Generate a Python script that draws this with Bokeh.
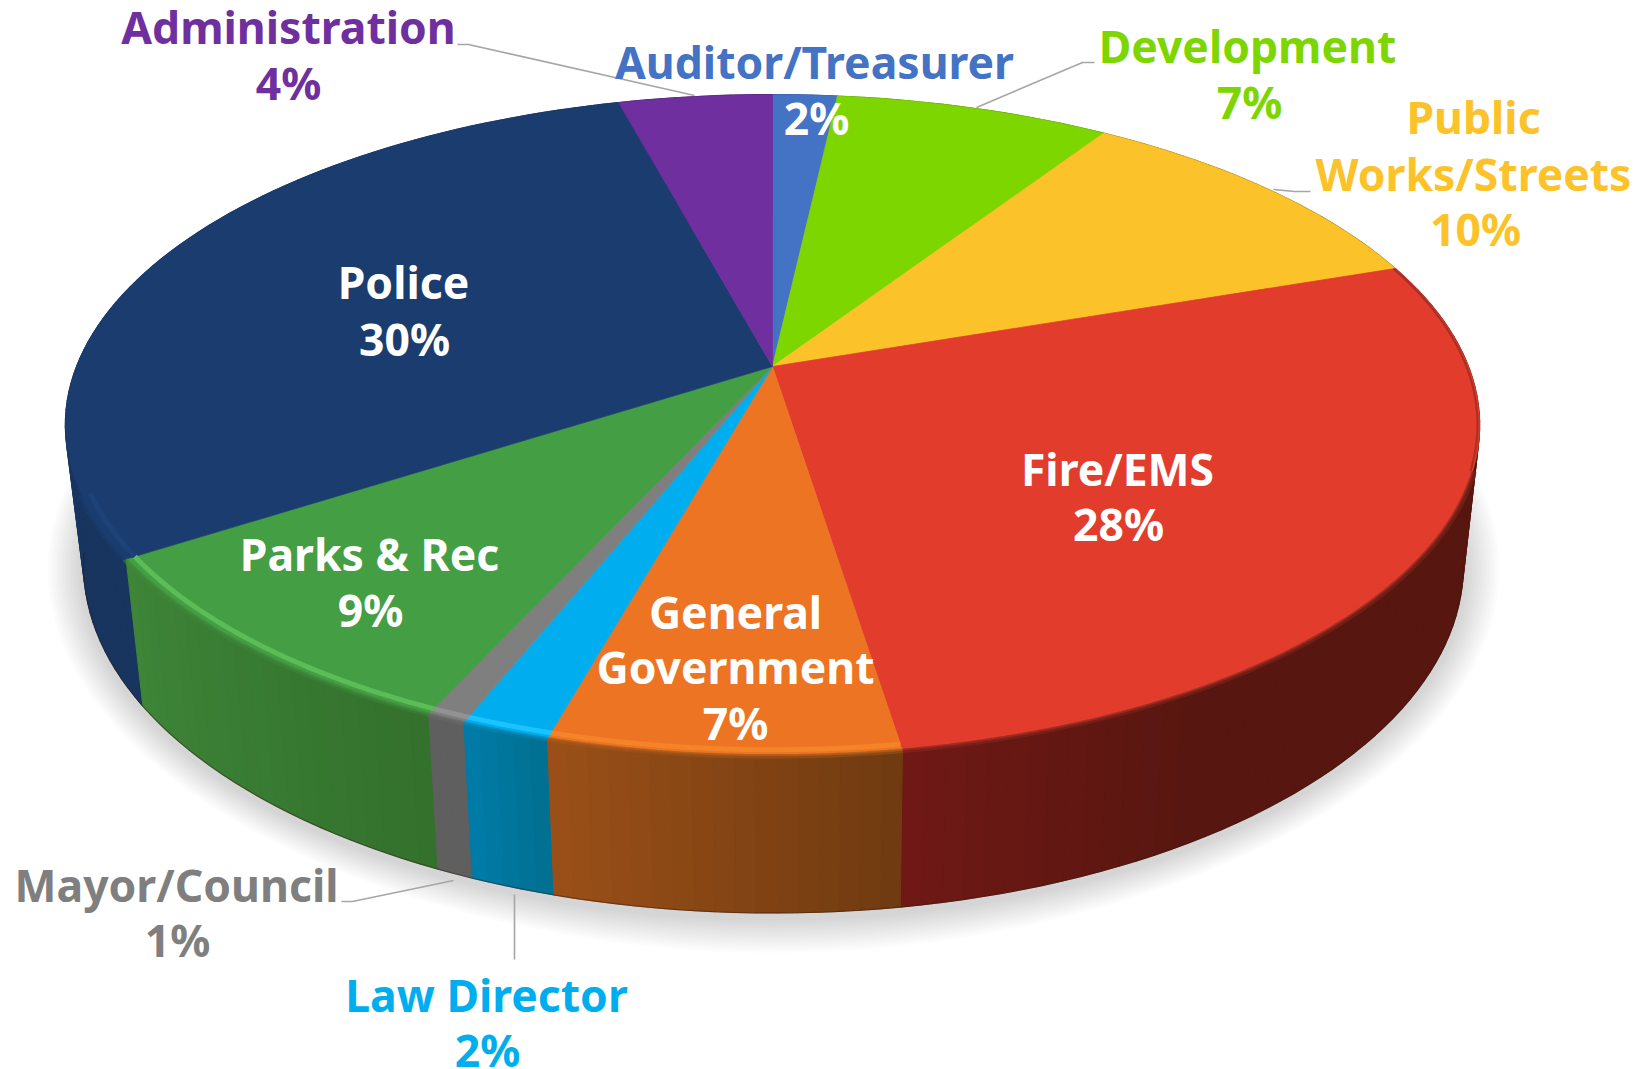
import numpy as np
from bokeh.plotting import figure
from bokeh.models import ColumnDataSource, Range1d
from bokeh.core.properties import value
from bokeh.embed import file_html
from bokeh.resources import INLINE

# ---------- data ----------
CATEGORIES = ["Auditor/Treasurer", "Development", "Public Works/Streets", "Fire/EMS",
              "General Government", "Law Director", "Mayor/Council", "Parks & Rec",
              "Police", "Administration"]
SHARES = [1.75, 7.45, 10.55, 27.79, 6.78, 1.72, 0.76, 9.05, 29.98, 4.17]
PERCENT_LABELS = ["2%", "7%", "10%", "28%", "7%", "2%", "1%", "9%", "30%", "4%"]

# ---------- styles ----------
TOP_COLORS = ["#4472c4", "#7ed600", "#fcc22a", "#e23c2d", "#ec7423",
              "#00aeef", "#7f7f7f", "#449e43", "#1b3c6f", "#6f2f9f"]
RIM_COLORS = [None, None, None, "#e23c2d", "#f58428", "#1cc4ff", "#929292", "#5cbc58", "#1e4379", None]
EDGE_COLORS = [None, None, None, "#8f2a20", "#a85a1c", "#0a88b8", "#6a6a6a", "#3f8a3b", "#1a3f72", None]
SIDE_START = ["#2c4a80", "#527f00", "#8a6a17", "#571710", "#6f3a10",
              "#00708f", "#5f5f5f", "#33712d", "#18355f", "#46205f"]
SIDE_END = ["#2c4a80", "#527f00", "#8a6a17", "#701815", "#9b5018",
              "#007ba9", "#5f5f5f", "#3e8538", "#18355f", "#46205f"]
SIDE_RAMP = [1, 1, 1, 0.22, 1, 1, 1, 1, 1, 1]
TEXT_COLORS = ["#4472c4", "#7ed600", "#fcc22a", None, None, "#00aeef", "#7f7f7f", None, None, "#6f2f9f"]
LEADER_COLOR = "#a6a6a6"
FONT = "Noto Sans"
FONT_PX = 44.5

# ---------- layout (page pixels) ----------
TOP = dict(cx=772, cy=366, A=696, B=320)
BOT = dict(cx=773, cy=503, A=679, B=337)
K = 0.177

LABEL_LINES = [
    [("Auditor/Treasurer", 814, 61, True), ("2%", 816, 117, False)],
    [("Development", 1247, 45, True), ("7%", 1249, 101, True)],
    [("Public", 1473, 116, True), ("Works/Streets", 1473, 173, True), ("10%", 1475, 228, True)],
    [("Fire/EMS", 1117, 468, False), ("28%", 1118, 523, False)],
    [("General", 735, 611, False), ("Government", 735, 666, False), ("7%", 735, 722, False)],
    [("Law Director", 486, 994, True), ("2%", 487, 1049, True)],
    [("Mayor/Council", 176, 884, True), ("1%", 177, 939, True)],
    [("Parks & Rec", 369, 553, False), ("9%", 370, 609, False)],
    [("Police", 403, 281, False), ("30%", 404, 338, False)],
    [("Administration", 288, 26, True), ("4%", 288, 82, True)],
]
LEADERS = [
    ([457, 468, 694], [44, 44, 95]),
    ([1094, 1082, 976], [62, 62, 107]),
    ([1310, 1294, 1273], [191, 191, 189]),
    ([341, 352, 453], [901, 901, 880]),
    ([514, 514], [959, 894]),
]


def hex2rgb(h):
    return np.array([int(h[i:i + 2], 16) for i in (1, 3, 5)], dtype=float)


def mix(a, b, t):
    c = hex2rgb(a) * (1 - t) + hex2rgb(b) * t
    return "#%02x%02x%02x" % tuple(int(round(v)) for v in c)


def proj(theta_deg, g, r=1.0):
    th = np.radians(theta_deg)
    u, v = r * np.sin(th), r * np.cos(th)
    d = 1 + K * v
    return g["cx"] + g["A"] * u / d, g["cy"] - g["B"] * v / d


cum = np.concatenate([[0], np.cumsum(SHARES)]) / np.sum(SHARES) * 360.0

p = figure(width=1640, height=1069, output_backend="svg", toolbar_location=None,
           x_range=Range1d(0, 1640), y_range=Range1d(1069, 0), min_border=0,
           background_fill_color="white", border_fill_color="white", outline_line_color=None)
p.axis.visible = False
p.grid.visible = False

# soft shadow under the disc
steps = 14
thetas = np.linspace(0, 360, 181)
sx, sy = proj(thetas, BOT)
mx, my = BOT["cx"], 565
dx, dy = sx - mx, sy - my
n = np.hypot(dx, dy)
for i in range(steps):
    grow = 36 - 32 * i / (steps - 1)
    fx = mx + dx * (1 + grow / n)
    fy = my + dy * (1 + grow / n) + 4
    p.patch(list(fx), list(fy), fill_color="#000000", fill_alpha=0.0105, line_color=None)

# wall quads, back to front
quads = []
for i in range(len(SHARES)):
    a0, a1 = cum[i], cum[i + 1]
    m = max(2, int(np.ceil((a1 - a0) / 1.5)))
    ed = np.linspace(a0, a1, m + 1)
    for j in range(m):
        mid_t = (j + 0.5) / m
        t = min(1.0, max(0.0, (mid_t - (1 - SIDE_RAMP[i])) / SIDE_RAMP[i]))
        col = mix(SIDE_START[i], SIDE_END[i], t)
        x0, y0 = proj(ed[j], TOP)
        x1, y1 = proj(ed[j + 1], TOP)
        x2, y2 = proj(ed[j + 1], BOT)
        x3, y3 = proj(ed[j], BOT)
        depth = -np.cos(np.radians((ed[j] + ed[j + 1]) / 2))
        quads.append((depth, [x0, x1, x2, x3], [y0, y1, y2, y3], col))
quads.sort(key=lambda q: q[0])
wall = ColumnDataSource(dict(xs=[q[1] for q in quads], ys=[q[2] for q in quads], c=[q[3] for q in quads]))
p.patches("xs", "ys", source=wall, fill_color="c", line_color="c", line_width=1.2)

# dark lower edge of the wall
th = np.linspace(100, 262, 200)
bx, by = proj(th, BOT)
p.line(list(bx), list(by), line_color="#3a1a10", line_width=1.2, line_alpha=0.45)

# top slices
txs, tys = [], []
for i in range(len(SHARES)):
    a = np.linspace(cum[i], cum[i + 1], max(3, int((cum[i + 1] - cum[i]) * 2)))
    x, y = proj(a, TOP)
    txs.append([TOP["cx"]] + list(x))
    tys.append([TOP["cy"]] + list(y))
p.patches(txs, tys, fill_color=TOP_COLORS, line_color=TOP_COLORS, line_width=0.7)

# bevel along the front rim
for i in range(len(SHARES)):
    if RIM_COLORS[i] is None:
        continue
    lo, hi = max(cum[i], 108), min(cum[i + 1], 248)
    a = np.linspace(lo, hi, 80)
    x, y = proj(a, TOP, 0.988)
    p.line(list(x), list(y), line_color=RIM_COLORS[i], line_width=5, line_cap="butt")
    x, y = proj(a, TOP, 1.003)
    p.line(list(x), list(y), line_color=EDGE_COLORS[i], line_width=4, line_alpha=0.45, line_cap="butt")
    x, y = proj(a, TOP, 1.0)
    p.line(list(x), list(y), line_color=EDGE_COLORS[i], line_width=2.5, line_alpha=0.7, line_cap="butt")

# thin dark inner edge on the upper right part of the largest right-hand slice
a = np.linspace(cum[3], 108, 60)
x, y = proj(a, TOP, 0.997)
p.line(list(x), list(y), line_color="#8f2a20", line_width=2, line_alpha=0.7, line_cap="butt")

# leader lines
p.multi_line([l[0] for l in LEADERS], [l[1] for l in LEADERS], line_color=LEADER_COLOR, line_width=1.6)

# labels
lx, ly, lt, lc = [], [], [], []
for i, lines in enumerate(LABEL_LINES):
    for text, x, y, coloured in lines:
        lx.append(x)
        ly.append(y)
        lt.append(text)
        lc.append(TEXT_COLORS[i] if coloured else "#ffffff")
p.text(lx, ly, text=lt, text_color=lc, text_font=value(FONT), text_font_style="bold",
       text_font_size=f"{FONT_PX}px", text_align="center", text_baseline="middle")

open("out.html", "w").write(file_html(p, INLINE))
